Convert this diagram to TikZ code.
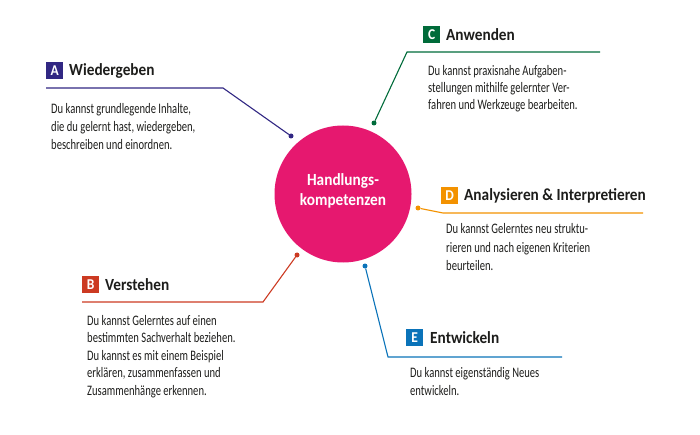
\documentclass[tikz,border=0pt]{standalone}
\usepackage{fontspec}
\setmainfont[FakeStretch=0.73]{Carlito}
\newfontfamily\titelfont[FakeStretch=0.9]{Carlito}
\usepackage{xcolor}
\usepackage{tikz}

\definecolor{textgrau}{HTML}{1D1D1B}
\definecolor{kernrot}{HTML}{E6186F}
\definecolor{farbeA}{HTML}{312783}
\definecolor{farbeB}{HTML}{CC3A22}
\definecolor{farbeC}{HTML}{006B3A}
\definecolor{farbeD}{HTML}{F39200}
\definecolor{farbeE}{HTML}{0A73B9}

\tikzset{
	badge/.style={fill=#1, text=white, font=\titelfont\bfseries\fontsize{15}{15}\selectfont, minimum width=17pt, minimum height=17pt, inner sep=0pt, anchor=north west},
	titel/.style={anchor=west, text=textgrau, font=\titelfont\bfseries\fontsize{17}{17}\selectfont, inner sep=0pt},
	info/.style={anchor=base west, align=left, text=textgrau, font=\fontsize{14.5}{18}\selectfont, inner sep=0pt},
	punkt/.style={circle, fill=#1, inner sep=0pt, minimum size=5pt},
	linie/.style={draw=#1, line width=1.1pt}
}

\begin{document}
\begin{tikzpicture}[x=1pt, y=-1pt]
	\useasboundingbox (0,0) rectangle (700,435);

	\node[circle, fill=kernrot, minimum size=137pt, inner sep=0pt] (kern) at (343,194) {};
	\node[text=white, align=center, font=\titelfont\bfseries\fontsize{17}{20}\selectfont] (kerntext) at (343,191) {Handlungs-\\kompetenzen};

	% A
	\node[badge=farbeA] (badgeA) at (46,62) {A};
	\node[titel] (titelA) at (69,71) {Wiedergeben};
	\node[info] (infoA) at (51,150) {Du kannst grundlegende Inhalte,\\die du gelernt hast, wiedergeben,\\beschreiben und einordnen.};
	\node[punkt=farbeA] (punktA) at (291,136) {};
	\coordinate (knickA) at (223,88);
	\coordinate (endeA) at (46,88);
	\draw[linie=farbeA] (punktA) -- (knickA) -- (endeA);

	% B
	\node[badge=farbeB] (badgeB) at (82,276) {B};
	\node[titel] (titelB) at (105,285) {Verstehen};
	\node[info, font=\fontsize{14.5}{17.5}\selectfont] (infoB) at (87,395) {Du kannst Gelerntes auf einen\\bestimmten Sachverhalt beziehen.\\Du kannst es mit einem Beispiel\\erkl\"aren, zusammenfassen und\\Zusammenh\"ange erkennen.};
	\node[punkt=farbeB] (punktB) at (297,255) {};
	\coordinate (knickB) at (263,302);
	\coordinate (endeB) at (82,302);
	\draw[linie=farbeB] (punktB) -- (knickB) -- (endeB);

	% C
	\node[badge=farbeC] (badgeC) at (423,26) {C};
	\node[titel] (titelC) at (446,35) {Anwenden};
	\node[info, font=\fontsize{14.5}{17.3}\selectfont] (infoC) at (428,110) {Du kannst praxisnahe Aufgaben-\\stellungen mithilfe gelernter Ver-\\fahren und Werkzeuge bearbeiten.};
	\node[punkt=farbeC] (punktC) at (374,123) {};
	\coordinate (knickC) at (407,52);
	\coordinate (endeC) at (600,52);
	\draw[linie=farbeC] (punktC) -- (knickC) -- (endeC);

	% D
	\node[badge=farbeD] (badgeD) at (441,187) {D};
	\node[titel] (titelD) at (464,196) {Analysieren \& Interpretieren};
	\node[info] (infoD) at (446,270) {Du kannst Gelerntes neu struktu-\\rieren und nach eigenen Kriterien\\beurteilen.};
	\node[punkt=farbeD] (punktD) at (418,208) {};
	\coordinate (knickD) at (443,213);
	\coordinate (endeD) at (643,213);
	\draw[linie=farbeD] (punktD) -- (knickD) -- (endeD);

	% E
	\node[badge=farbeE] (badgeE) at (406,329) {E};
	\node[titel] (titelE) at (430,338) {Entwickeln};
	\node[info] (infoE) at (410,395) {Du kannst eigenst\"andig Neues\\entwickeln.};
	\node[punkt=farbeE] (punktE) at (365,266) {};
	\coordinate (knickE) at (388,357);
	\coordinate (endeE) at (562,357);
	\draw[linie=farbeE] (punktE) -- (knickE) -- (endeE);
\end{tikzpicture}
\end{document}
